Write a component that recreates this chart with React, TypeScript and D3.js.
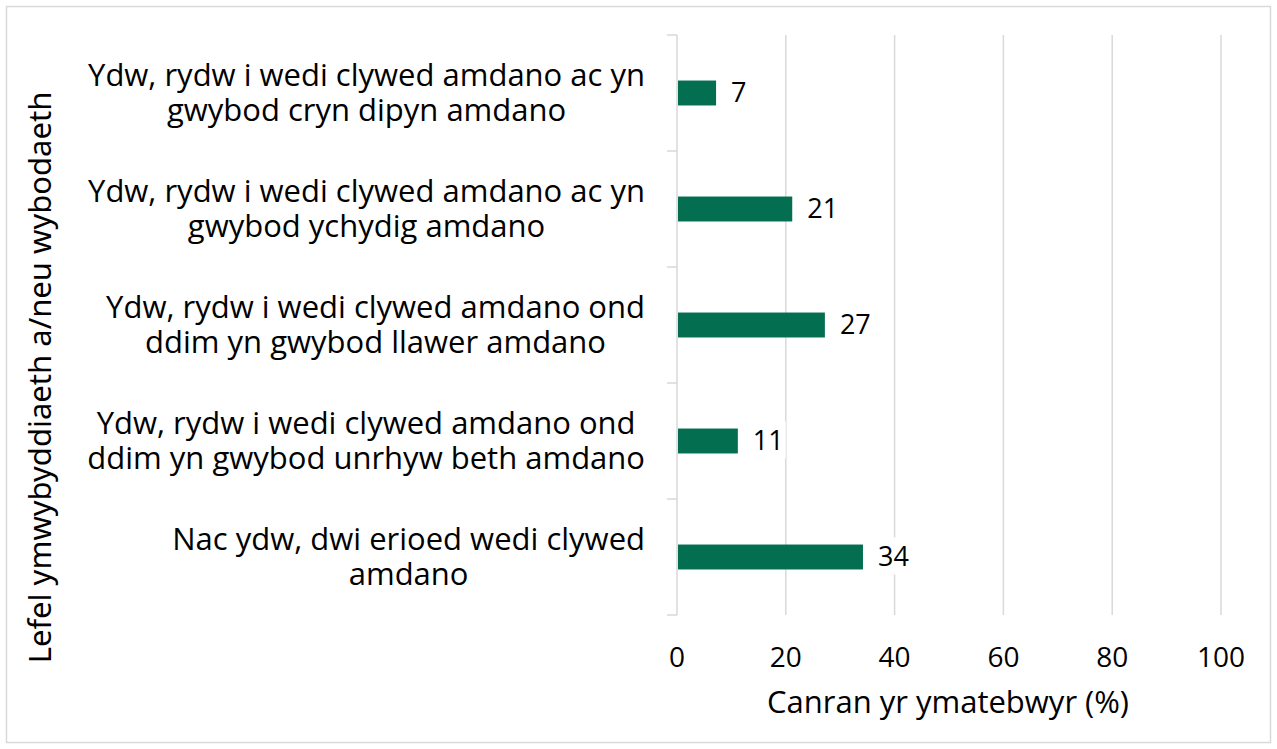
import React, { useEffect, useRef } from "react";
import * as d3 from "d3";

const categoryLines = [
  ["Ydw, rydw i wedi clywed amdano ac yn", "gwybod cryn dipyn amdano"],
  ["Ydw, rydw i wedi clywed amdano ac yn", "gwybod ychydig amdano"],
  ["Ydw, rydw i wedi clywed amdano ond", "ddim yn gwybod llawer amdano"],
  ["Ydw, rydw i wedi clywed amdano ond", "ddim yn gwybod unrhyw beth amdano"],
  ["Nac ydw, dwi erioed wedi clywed", "amdano"],
];
const percentages = [7, 21, 27, 11, 34];
const xTicks = [0, 20, 40, 60, 80, 100];
const xTitle = "Canran yr ymatebwyr (%)";
const yTitle = "Lefel ymwybyddiaeth a/neu wybodaeth";

const FONT = "'Open Sans', sans-serif";
const GREEN = "#036f50";
const GRID = "#d9d9d9";

export default function App() {
  const ref = useRef<SVGSVGElement>(null);

  useEffect(() => {
    const svg = d3.select(ref.current);
    svg.selectAll("*").remove();

    const width = 1277;
    const height = 749;
    const plot = { left: 677, right: 1221, top: 35, bottom: 615 };

    svg
      .append("rect")
      .attr("x", 6.5)
      .attr("y", 6.5)
      .attr("width", 1264)
      .attr("height", 736)
      .attr("fill", "white")
      .attr("stroke", GRID)
      .attr("stroke-width", 1.5);

    const x = d3.scaleLinear().domain([0, 100]).range([plot.left, plot.right]);
    const y = d3
      .scaleBand<number>()
      .domain(d3.range(percentages.length))
      .range([plot.top, plot.bottom])
      .paddingInner(0.785)
      .paddingOuter(0.785 / 2);
    const band = (plot.bottom - plot.top) / percentages.length;

    // gridlines
    svg
      .append("g")
      .selectAll("line")
      .data(xTicks.slice(1))
      .join("line")
      .attr("x1", (d) => x(d))
      .attr("x2", (d) => x(d))
      .attr("y1", plot.top)
      .attr("y2", plot.bottom)
      .attr("stroke", GRID)
      .attr("stroke-width", 1.5);

    // left axis with category boundary ticks
    svg
      .append("line")
      .attr("x1", plot.left)
      .attr("x2", plot.left)
      .attr("y1", plot.top)
      .attr("y2", plot.bottom)
      .attr("stroke", GRID)
      .attr("stroke-width", 1.5);
    svg
      .append("g")
      .selectAll("line")
      .data(d3.range(percentages.length + 1))
      .join("line")
      .attr("x1", plot.left - 10)
      .attr("x2", plot.left)
      .attr("y1", (i) => plot.top + i * band)
      .attr("y2", (i) => plot.top + i * band)
      .attr("stroke", GRID)
      .attr("stroke-width", 1.5);

    // bars
    svg
      .append("g")
      .selectAll("rect")
      .data(percentages)
      .join("rect")
      .attr("x", x(0) + 1)
      .attr("y", (_, i) => y(i)!)
      .attr("width", (d) => x(d) - x(0))
      .attr("height", y.bandwidth())
      .attr("fill", GREEN);

    // value labels
    const vl = svg.append("g");
    percentages.forEach((v, i) => {
      const cy = y(i)! + y.bandwidth() / 2;
      const t = vl
        .append("text")
        .attr("x", x(v) + 16)
        .attr("y", cy)
        .attr("dy", "0.35em")
        .attr("font-family", FONT)
        .attr("font-size", 27)
        .attr("fill", "#000")
        .text(v);
      const bb = (t.node() as SVGTextElement).getBBox();
      vl.insert("rect", "text")
        .attr("x", bb.x - 2)
        .attr("y", bb.y)
        .attr("width", bb.width + 4)
        .attr("height", bb.height)
        .attr("fill", "white");
    });

    // category labels: lines centred within a right-aligned block
    const cl = svg.append("g");
    const lineH = 35;
    categoryLines.forEach((lines, i) => {
      const cy = plot.top + (i + 0.5) * band;
      const texts = lines.map((s, j) =>
        cl
          .append("text")
          .attr("y", cy + (j - (lines.length - 1) / 2) * lineH)
          .attr("dy", "0.35em")
          .attr("text-anchor", "middle")
          .attr("font-family", FONT)
          .attr("font-size", 31)
          .attr("fill", "#000")
          .text(s)
      );
      const w = d3.max(texts, (t) => (t.node() as SVGTextElement).getComputedTextLength())!;
      texts.forEach((t) => t.attr("x", 645 - w / 2));
    });

    // x tick labels
    svg
      .append("g")
      .selectAll("text")
      .data(xTicks)
      .join("text")
      .attr("x", (d) => x(d))
      .attr("y", 657)
      .attr("dy", "0.35em")
      .attr("text-anchor", "middle")
      .attr("font-family", FONT)
      .attr("font-size", 28)
      .text((d) => d);

    svg
      .append("text")
      .attr("x", 948)
      .attr("y", 702)
      .attr("dy", "0.35em")
      .attr("text-anchor", "middle")
      .attr("font-family", FONT)
      .attr("font-size", 31)
      .text(xTitle);

    svg
      .append("text")
      .attr("transform", `translate(40,${(95 + 660) / 2}) rotate(-90)`)
      .attr("dy", "0.35em")
      .attr("text-anchor", "middle")
      .attr("font-family", "'Noto Sans', sans-serif")
      .attr("font-size", 31)
      .text(yTitle);

    svg.attr("width", width).attr("height", height);
  }, []);

  return (
    <svg
      ref={ref}
      width={1277}
      height={749}
      style={{ position: "absolute", left: 0, top: 0, background: "white" }}
    />
  );
}
